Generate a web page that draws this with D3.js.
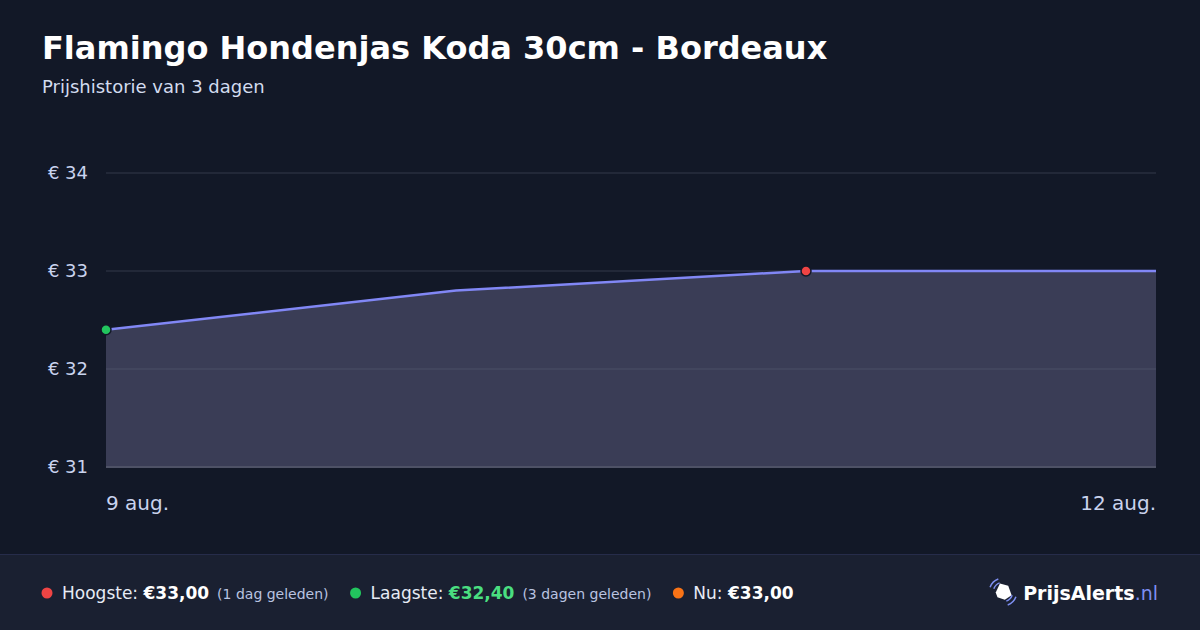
<!DOCTYPE html>
<html>
<head>
  <meta charset="utf-8">
  <title>Flamingo Hondenjas Koda 30cm - Bordeaux</title>
  <style>
    body {
      margin: 0;
      padding: 0;
      background-color: #121827;
      font-family: "DejaVu Sans", sans-serif;
      overflow: hidden;
    }
    svg { display: block; }
  </style>
</head>
<body>
  <div id="chart"></div>

  <script src="https://cdn.jsdelivr.net/npm/d3@7/dist/d3.min.js"></script>
  <script>
    // price history, one point per day
    const dates = ['2024-08-09', '2024-08-10', '2024-08-11', '2024-08-12'];
    const prices = [32.40, 32.80, 33.00, 33.00];
    const yTicks = [31, 32, 33, 34];
    const xTickLabels = ['9 aug.', '12 aug.'];

    const W = 1200, H = 630;
    const margin = { left: 106, right: 44, top: 173, bottom: 163 };

    const parse = d3.timeParse('%Y-%m-%d');
    const data = dates.map((d, i) => ({ date: parse(d), price: prices[i] }));

    const svg = d3.select('#chart')
      .append('svg')
      .attr('width', W)
      .attr('height', H);

    svg.append('rect').attr('width', W).attr('height', H).attr('fill', '#121827');

    // title
    svg.append('text')
      .attr('x', 42).attr('y', 59)
      .attr('fill', '#ffffff')
      .attr('font-size', 32).attr('font-weight', 'bold')
      .text('Flamingo Hondenjas Koda 30cm - Bordeaux');

    svg.append('text')
      .attr('x', 42).attr('y', 93)
      .attr('fill', '#d3dcef')
      .attr('font-size', 18)
      .text('Prijshistorie van 3 dagen');

    const x = d3.scaleTime()
      .domain(d3.extent(data, d => d.date))
      .range([margin.left, W - margin.right]);

    const y = d3.scaleLinear()
      .domain([31, 34])
      .range([H - margin.bottom, margin.top]);

    // grid
    svg.append('g')
      .selectAll('line')
      .data(yTicks)
      .enter().append('line')
      .attr('x1', margin.left).attr('x2', W - margin.right)
      .attr('y1', d => y(d)).attr('y2', d => y(d))
      .attr('stroke', '#222838').attr('stroke-width', 2);

    // area + line
    const area = d3.area()
      .x(d => x(d.date))
      .y0(y(31))
      .y1(d => y(d.price));

    svg.append('path')
      .datum(data)
      .attr('d', area)
      .attr('fill', '#3a3d56');

    // grid lines over the area (lighter inside)
    svg.append('g')
      .selectAll('line')
      .data(yTicks.filter(t => t < 33))
      .enter().append('line')
      .attr('x1', margin.left).attr('x2', W - margin.right)
      .attr('y1', d => y(d)).attr('y2', d => y(d))
      .attr('stroke', d => d === 31 ? '#4e5266' : '#42465e')
      .attr('stroke-width', 2);

    const line = d3.line()
      .x(d => x(d.date))
      .y(d => y(d.price));

    svg.append('path')
      .datum(data)
      .attr('d', line)
      .attr('fill', 'none')
      .attr('stroke', '#8187f5')
      .attr('stroke-width', 2.5);

    // y labels
    svg.append('g')
      .selectAll('text')
      .data(yTicks)
      .enter().append('text')
      .attr('x', 88).attr('y', d => y(d) + 6)
      .attr('text-anchor', 'end')
      .attr('fill', '#c9d3ee')
      .attr('font-size', 18)
      .text(d => '€ ' + d);

    // x labels
    const xEnds = [data[0].date, data[data.length - 1].date];
    svg.append('g')
      .selectAll('text')
      .data(xEnds)
      .enter().append('text')
      .attr('x', d => x(d))
      .attr('y', 510)
      .attr('text-anchor', (d, i) => i === 0 ? 'start' : 'end')
      .attr('fill', '#c9d3ee')
      .attr('font-size', 20)
      .text((d, i) => xTickLabels[i]);

    // min / max markers
    const minIdx = d3.minIndex(prices);
    const maxIdx = d3.maxIndex(prices);
    [[minIdx, '#22c55e'], [maxIdx, '#ef4444']].forEach(([i, c]) => {
      svg.append('circle')
        .attr('cx', x(data[i].date)).attr('cy', y(data[i].price))
        .attr('r', 5)
        .attr('fill', c)
        .attr('stroke', '#121827').attr('stroke-width', 1.5);
    });

    // footer
    svg.append('rect')
      .attr('x', 0).attr('y', 554).attr('width', W).attr('height', H - 554)
      .attr('fill', '#1a2031');
    svg.append('line')
      .attr('x1', 0).attr('x2', W).attr('y1', 554.5).attr('y2', 554.5)
      .attr('stroke', '#262c4a');

    const fmt = v => '€' + v.toFixed(2).replace('.', ',');
    const stats = [
      { label: 'Hoogste: ', value: fmt(prices[maxIdx]), note: '(1 dag geleden)', color: '#ef4444', valueColor: '#ffffff' },
      { label: 'Laagste: ', value: fmt(prices[minIdx]), note: '(3 dagen geleden)', color: '#22c55e', valueColor: '#4ade80' },
      { label: 'Nu: ', value: fmt(prices[prices.length - 1]), note: null, color: '#f97316', valueColor: '#ffffff' }
    ];

    let cx = 42;
    stats.forEach(s => {
      svg.append('circle').attr('cx', cx + 5).attr('cy', 593).attr('r', 5.5).attr('fill', s.color);
      const t = svg.append('text')
        .attr('x', cx + 20).attr('y', 599)
        .attr('font-size', 17).attr('fill', '#e6ebf5');
      t.append('tspan').text(s.label);
      t.append('tspan').attr('font-weight', 'bold').attr('fill', s.valueColor).text(s.value);
      if (s.note) {
        t.append('tspan').attr('dx', 8).attr('font-size', 14).attr('fill', '#b9c3e0').text(s.note);
      }
      cx += 20 + t.node().getComputedTextLength() + 30;
    });

    // logo
    const logo = svg.append('g').attr('transform', 'translate(1003,592)');
    logo.append('path')
      .attr('d', 'M-7,-2 L0,-9 L7,-4 L7,6 L-1,8 L-7,3 Z')
      .attr('fill', '#ffffff')
      .attr('transform', 'rotate(-20)');
    [[9, -70, -20], [13, -70, -20], [9, 110, 160], [13, 110, 160]].forEach(([r, a0, a1]) => {
      const arc = d3.arc().innerRadius(r).outerRadius(r + 1.5)
        .startAngle(a0 * Math.PI / 180).endAngle(a1 * Math.PI / 180);
      logo.append('path').attr('d', arc()).attr('fill', '#7d8ef0');
    });

    const lt = svg.append('text')
      .attr('x', 1158).attr('y', 600)
      .attr('text-anchor', 'end')
      .attr('font-size', 19).attr('font-weight', 'bold').attr('fill', '#ffffff');
    lt.append('tspan').text('PrijsAlerts');
    lt.append('tspan').attr('font-weight', 'normal').attr('fill', '#7d8ef0').text('.nl');
  </script>
</body>
</html>
